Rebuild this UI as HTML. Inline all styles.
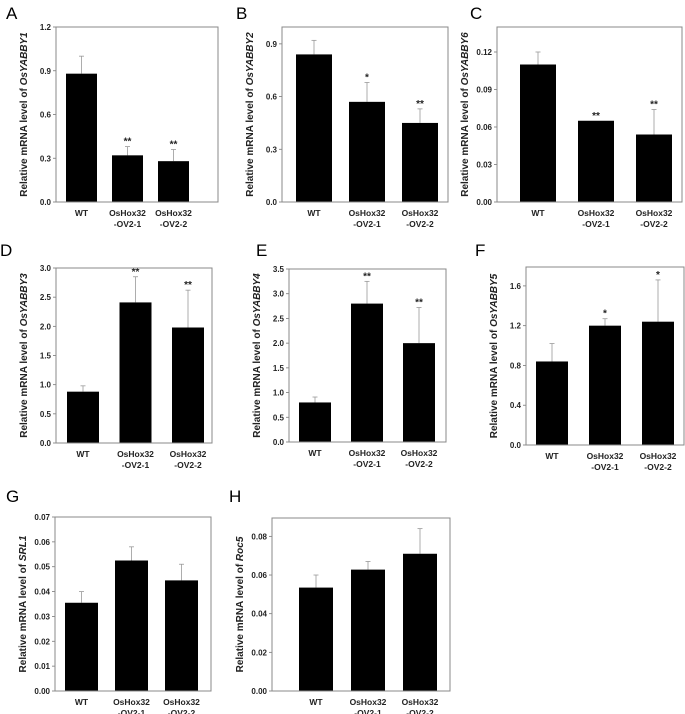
<!DOCTYPE html>
<html><head><meta charset="utf-8"><style>
body{margin:0;background:#fff;}
svg{display:block;font-family:"Liberation Sans",Arial,sans-serif;}
</style></head><body>
<svg id="fig" width="685" height="714" viewBox="0 0 685 714"></svg>
<script>
const categories = ["WT","OsHox32\n-OV2-1","OsHox32\n-OV2-2"];
const valsA=[0.88,0.32,0.28], errA=[1.00,0.38,0.36], sigA=["","**","**"];
const valsB=[0.84,0.57,0.45], errB=[0.92,0.68,0.53], sigB=["","*","**"];
const valsC=[0.110,0.065,0.054], errC=[0.120,0.065,0.074], sigC=["","**","**"];
const valsD=[0.88,2.41,1.98], errD=[0.98,2.85,2.62], sigD=["","**","**"];
const valsE=[0.80,2.80,2.00], errE=[0.91,3.25,2.72], sigE=["","**","**"];
const valsF=[0.84,1.20,1.24], errF=[1.02,1.27,1.66], sigF=["","*","*"];
const valsG=[0.0355,0.0525,0.0445], errG=[0.040,0.058,0.051], sigG=["","",""];
const valsH=[0.0535,0.0628,0.071], errH=[0.060,0.067,0.084], sigH=["","",""];
const ticksA=["0.0","0.3","0.6","0.9","1.2"];
const ticksB=["0.0","0.3","0.6","0.9"];
const ticksC=["0.00","0.03","0.06","0.09","0.12"];
const ticksD=["0.0","0.5","1.0","1.5","2.0","2.5","3.0"];
const ticksE=["0.0","0.5","1.0","1.5","2.0","2.5","3.0","3.5"];
const ticksF=["0.0","0.4","0.8","1.2","1.6"];
const ticksG=["0.00","0.01","0.02","0.03","0.04","0.05","0.06","0.07"];
const ticksH=["0.00","0.02","0.04","0.06","0.08"];

const panels=[
 {id:"A",gene:"OsYABBY1",v:valsA,e:errA,s:sigA,t:ticksA,max:1.2,L:56,R:218,T:27,B:202,off:10,step:46,w:31,lx:6,ly:19},
 {id:"B",gene:"OsYABBY2",v:valsB,e:errB,s:sigB,t:ticksB,max:0.996,L:282,R:448,T:27,B:202,off:14,step:53,w:36,lx:236,ly:19},
 {id:"C",gene:"OsYABBY6",v:valsC,e:errC,s:sigC,t:ticksC,max:0.14,L:497,R:682,T:27,B:202,off:23,step:58,w:36,lx:470,ly:19},
 {id:"D",gene:"OsYABBY3",v:valsD,e:errD,s:sigD,t:ticksD,max:3.0,L:56,R:212,T:268,B:443,off:11,step:52.5,w:32,lx:0,ly:256},
 {id:"E",gene:"OsYABBY4",v:valsE,e:errE,s:sigE,t:ticksE,max:3.5,L:289,R:446,T:269,B:442,off:10,step:52,w:32,lx:256,ly:256},
 {id:"F",gene:"OsYABBY5",v:valsF,e:errF,s:sigF,t:ticksF,max:1.79,L:526,R:684,T:267,B:445,off:10,step:53,w:32,lx:475,ly:256},
 {id:"G",gene:"SRL1",v:valsG,e:errG,s:sigG,t:ticksG,max:0.07,L:55,R:211,T:517,B:691,off:10,step:50,w:33,lx:6,ly:502},
 {id:"H",gene:"Roc5",v:valsH,e:errH,s:sigH,t:ticksH,max:0.0895,L:272,R:450,T:518,B:691,off:27,step:52,w:34,lx:229,ly:502}
];
const NS="http://www.w3.org/2000/svg";
const svg=document.getElementById("fig");
function mk(tag,attrs,parent,text){const el=document.createElementNS(NS,tag);for(const k in attrs)el.setAttribute(k,attrs[k]);if(text!==undefined)el.textContent=text;(parent||svg).appendChild(el);return el;}
panels.forEach(p=>{
  const g=mk("g",{});
  
  
  const y=v=>p.B-(v/p.max)*(p.B-p.T);
  const x=i=>p.L+p.off+i*p.step;
  const lab=mk("text",{x:p.lx,y:p.ly,"font-size":17,fill:"#000"},g,p.id);
  
  
  p.t.forEach(tl=>{
    const v=parseFloat(tl);
    const yy=y(v);
    mk("line",{x1:p.L-3,x2:p.L,y1:yy,y2:yy,stroke:"#777","stroke-width":0.8},g);
    const tt=mk("text",{x:p.L-5,y:yy+3,"font-size":8,"font-weight":"bold","text-anchor":"end",fill:"#222"},g,tl);
    
    
  });
  p.v.forEach((v,i)=>{
    const cx=x(i)+p.w/2;
    const ey=y(p.e[i]);
    if(p.e[i]>v){
      mk("line",{x1:cx,x2:cx,y1:y(v),y2:ey,stroke:"#999","stroke-width":0.8},g);
      mk("line",{x1:cx-2.5,x2:cx+2.5,y1:ey,y2:ey,stroke:"#999","stroke-width":0.8},g);
    }
    const r=mk("rect",{x:x(i),y:y(v),width:p.w,height:p.B-y(v),fill:"#000"},g);
    
    
    if(p.s[i]){
      const st=mk("text",{x:cx,y:Math.min(ey,y(v))-2,"font-size":10,"font-weight":"bold","text-anchor":"middle",fill:"#222"},g,p.s[i]);
      
      
    }
    categories[i].split("\n").forEach((ln,j)=>{
      const ct=mk("text",{x:cx,y:p.B+14+j*11,"font-size":8.5,"font-weight":"bold","text-anchor":"middle",fill:"#222"},g,ln);
      
      
    });
  });
  mk("rect",{x:p.L,y:p.T,width:p.R-p.L,height:p.B-p.T,fill:"none",stroke:"#888","stroke-width":1},g);
  const cy=(p.T+p.B)/2, ax=p.L-29;
  const yt=mk("text",{x:ax,y:cy,"font-size":10,"font-weight":"bold","text-anchor":"middle",fill:"#222",transform:`rotate(-90 ${ax} ${cy})`},g);
  
  
  mk("tspan",{},yt,"Relative mRNA level of ");
  mk("tspan",{"font-style":"italic"},yt,p.gene);
});
</script>
</body></html>
